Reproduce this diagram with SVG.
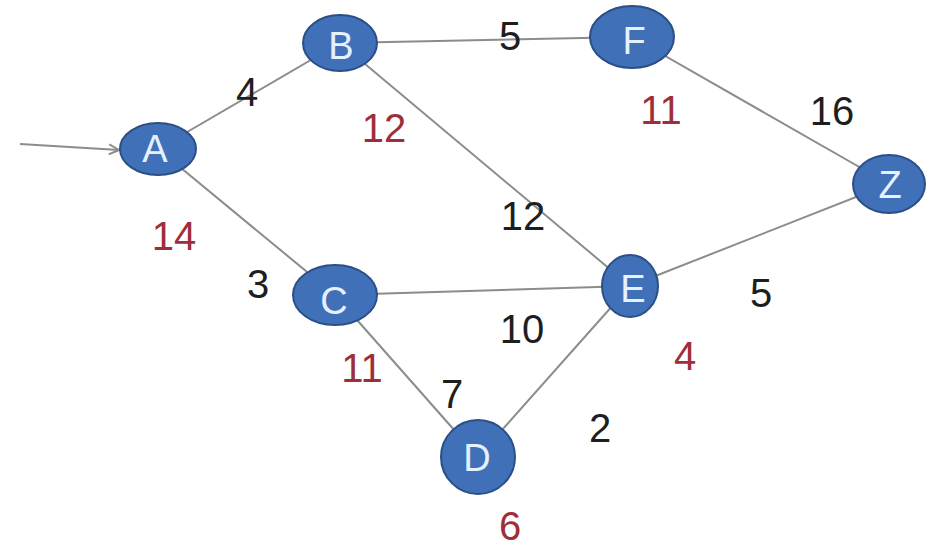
<svg xmlns="http://www.w3.org/2000/svg" width="937" height="555" viewBox="0 0 937 555">
<defs>
<style>
.edge{stroke:#8c8c8c;stroke-width:2;fill:none}
.node ellipse{fill:#4070b8;stroke:#2b4f86;stroke-width:2}
.node text{font-family:"Liberation Sans",Arial,sans-serif;font-size:38px;fill:#e6f1ff;text-anchor:middle}
.w{font-family:"Liberation Sans",Arial,sans-serif;font-size:40px;fill:#1e1e1e;text-anchor:middle}
.d{font-family:"Liberation Sans",Arial,sans-serif;font-size:40px;fill:#9e2f3a;text-anchor:middle}
</style>
<marker id="arr" viewBox="0 0 12 12" refX="11" refY="6" markerWidth="12" markerHeight="12" markerUnits="userSpaceOnUse" orient="auto">
<path d="M1,1 L11,6 L1,11" fill="none" stroke="#8c8c8c" stroke-width="2"/>
</marker>
</defs>
<rect width="937" height="555" fill="#ffffff"/>
<g id="connectors">
<line class="edge" x1="20" y1="144" x2="119" y2="150" marker-end="url(#arr)"/>
<line class="edge" x1="158" y1="149" x2="340" y2="43"/>
<line class="edge" x1="340" y1="43" x2="632" y2="37"/>
<line class="edge" x1="632" y1="37" x2="889" y2="184"/>
<line class="edge" x1="340" y1="43" x2="630" y2="286"/>
<line class="edge" x1="158" y1="149" x2="335" y2="295"/>
<line class="edge" x1="335" y1="295" x2="630" y2="286"/>
<line class="edge" x1="630" y1="286" x2="889" y2="184"/>
<line class="edge" x1="335" y1="295" x2="478" y2="457"/>
<line class="edge" x1="478" y1="457" x2="630" y2="286"/>
</g>
<g id="edge-labels">
<text class="w" x="247" y="106">4</text>
<text class="w" x="510" y="50">5</text>
<text class="w" x="832" y="125">16</text>
<text class="w" x="523" y="230">12</text>
<text class="w" x="258" y="298">3</text>
<text class="w" x="761" y="307">5</text>
<text class="w" x="522" y="343">10</text>
<text class="w" x="452" y="408">7</text>
<text class="w" x="600" y="442">2</text>
</g>
<g id="distance-labels">
<text class="d" x="384" y="142">12</text>
<text class="d" x="661" y="124">11</text>
<text class="d" x="174" y="250">14</text>
<text class="d" x="362" y="382">11</text>
<text class="d" x="685" y="370">4</text>
<text class="d" x="510" y="540">6</text>
</g>
<g id="node-A" class="node"><ellipse cx="158" cy="149" rx="38" ry="26"/><text x="155" y="162">A</text></g>
<g id="node-B" class="node"><ellipse cx="340" cy="43" rx="37" ry="28"/><text x="341" y="59">B</text></g>
<g id="node-F" class="node"><ellipse cx="632" cy="37" rx="42" ry="31"/><text x="634" y="54">F</text></g>
<g id="node-Z" class="node"><ellipse cx="889" cy="184" rx="36" ry="29"/><text x="890" y="198">Z</text></g>
<g id="node-C" class="node"><ellipse cx="335" cy="295" rx="42" ry="30"/><text x="334" y="314">C</text></g>
<g id="node-E" class="node"><ellipse cx="630" cy="286" rx="28" ry="31"/><text x="633" y="302">E</text></g>
<g id="node-D" class="node"><ellipse cx="478" cy="457" rx="37" ry="37"/><text x="477" y="471">D</text></g>
</svg>
